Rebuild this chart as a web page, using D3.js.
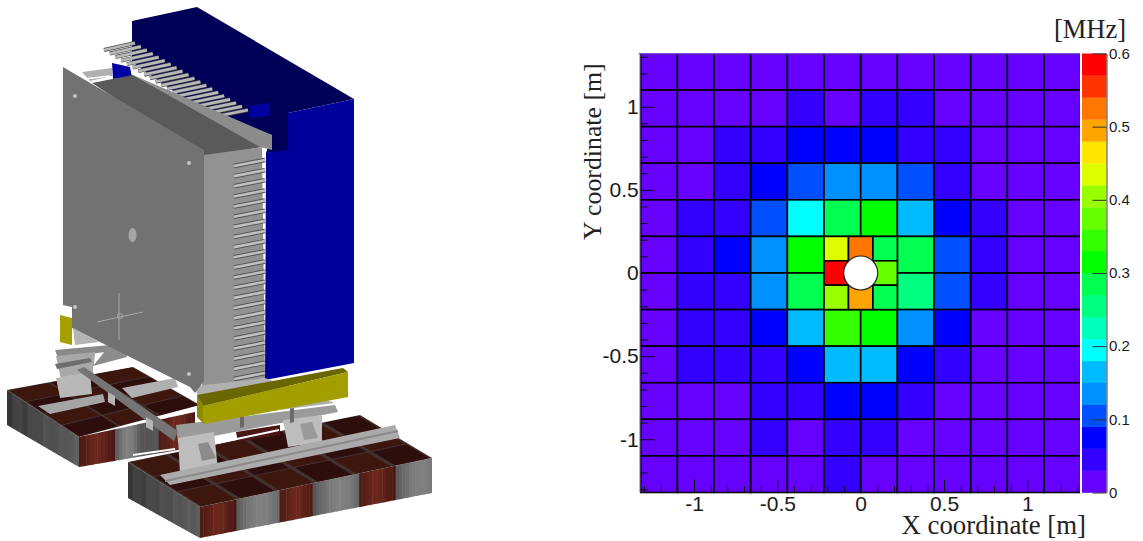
<!DOCTYPE html>
<html><head><meta charset="utf-8">
<script src="https://cdn.jsdelivr.net/npm/d3@7/dist/d3.min.js"></script>
<style>html,body{margin:0;padding:0;background:#fff}svg{display:block}</style>
</head><body><svg id="c" width="1143" height="541"></svg>
<script>
// ---------- data ----------
const paletteColors = ["#6600ff","#3300ff","#0000ff","#0050ff","#0090ff","#00bbff","#00ffff","#00ffbb","#00ff80","#00ff50",
                       "#00ff00","#33ff00","#66ff00","#99ff00","#ddff00","#ffe600","#ffa500","#ff7700","#ff3300","#ff0000"];
const zMax = 0.6;
const binEdgeStart = -1.32, binWidth = 0.22, binCount = 12;
const innerEdgeStart = -0.22, innerWidth = 0.44 / 3;
const holeRadius = 0.102;
// rates in MHz, rows from top (y = +1.32) to bottom; the four central cells are subdivided below
const outerRates = [
 [.015,.015,.015,.015,.015,.015,.015,.015,.015,.015,.015,.015],
 [.015,.015,.015,.015,.045,.015,.045,.045,.015,.015,.015,.015],
 [.015,.015,.045,.045,.075,.075,.075,.045,.045,.015,.015,.015],
 [.015,.015,.045,.075,.105,.135,.135,.105,.045,.015,.015,.015],
 [.015,.045,.045,.105,.195,.285,.315,.165,.075,.045,.015,.015],
 [.015,.045,.075,.135,.315,null,null,.285,.105,.045,.015,.015],
 [.015,.045,.045,.135,.285,null,null,.255,.105,.045,.015,.015],
 [.015,.045,.045,.075,.165,.345,.315,.135,.075,.015,.015,.015],
 [.015,.045,.045,.045,.075,.165,.165,.075,.045,.015,.015,.015],
 [.015,.015,.015,.045,.045,.075,.075,.045,.015,.015,.015,.015],
 [.015,.015,.015,.045,.015,.045,.045,.015,.015,.015,.015,.015],
 [.015,.015,.015,.015,.015,.045,.015,.015,.015,.015,.015,.015]];
const innerRates = [[.435,.525,.285],[.585,null,.375],[.405,.495,.285]];
const axisTicks = [-1,-0.5,0,0.5,1];
const axisMinorTicks = [-1.3,-1.2,-1.1,-0.9,-0.8,-0.7,-0.6,-0.4,-0.3,-0.2,-0.1,0.1,0.2,0.3,0.4,0.6,0.7,0.8,0.9,1.1,1.2,1.3];
const zTicks = [0,0.1,0.2,0.3,0.4,0.5,0.6];
const xTitle = "X coordinate [m]", yTitle = "Y coordinate [m]", zTitle = "[MHz]";

const svg = d3.select("#c");

// ---------- left: detector rendering (illustration) ----------
const defs = svg.append("defs");
defs.append("filter").attr("id","soft").attr("x","-5%").attr("y","-5%").attr("width","110%").attr("height","110%")
    .append("feGaussianBlur").attr("stdDeviation",0.7);
const ill = svg.append("g").attr("filter","url(#soft)");
const poly = (pts,fill)=>ill.append("polygon").attr("points",pts.map(p=>p.join(",")).join(" ")).attr("fill",fill);
const line = (a,b,col,w)=>ill.append("line").attr("x1",a[0]).attr("y1",a[1]).attr("x2",b[0]).attr("y2",b[1]).attr("stroke",col).attr("stroke-width",w);
const lerp=(a,b,t)=>[a[0]+(b[0]-a[0])*t,a[1]+(b[1]-a[1])*t];

function stripedFace(a,b,c,d,colorAt,n){
  for(let i=0;i<n;i++){const t0=i/n,t1=(i+1.15)/n;
    poly([lerp(a,b,t0),lerp(a,b,Math.min(t1,1)),lerp(d,c,Math.min(t1,1)),lerp(d,c,t0)],colorAt((i+.5)/n,i));}
}
const grayTex=(t,i)=>{const g=52+34*t+12*Math.abs(Math.sin(i*1.1));return d3.rgb(g,g,g).toString();};
function frontTex(bands){return (t,i)=>{
  for(const [s,e] of bands){ if(t>=s&&t<=e){const u=(t-s)/(e-s);const k=1-Math.abs(u-.5)*1.3;return d3.rgb(55+55*k,14+28*k,10+22*k).toString();}}
  let left=0; for(const [s,e] of bands){ if(e<t) left=e; }
  const g=84+44*Math.sin(Math.min((t-left)*14,3.14)); return d3.rgb(g,g,g).toString();};}
function topPatches(a,b,c,d,nu,nv){
  poly([a,b,c,d],"#43302d");
  const p=(u,v)=>lerp(lerp(a,b,u),lerp(d,c,u),v);
  for(let i=0;i<nu;i++)for(let j=0;j<nv;j++){
    const g=.01;
    poly([p(i/nu+g,j/nv+g),p((i+1)/nu-g,j/nv+g),p((i+1)/nu-g,(j+1)/nv-g),p(i/nu+g,(j+1)/nv-g)],(i+j)%2?"#2e0b0a":"#3c1410");
  }
}
// rear block
stripedFace([7,390],[79,437],[79,467],[7,425],grayTex,14);
stripedFace([79,437],[195,412],[195,447],[79,467],frontTex([[0,.31],[.68,1]]),32);
topPatches([7,390],[133,367],[200,405],[79,437],3,4);
line([133,455],[175,449],"#fff",1.8);
// front block
stripedFace([128,462],[200,507],[200,538],[128,498],grayTex,16);
stripedFace([200,507],[432,458],[432,493],[200,538],frontTex([[0,.15],[.338,.49],[.68,.84]]),70);
topPatches([128,462],[360,415],[432,458],[200,507],6,3);
// rear rail & supports
poly([[38,406],[103,394],[105,402],[50,414]],"#a5a5a5");
poly([[122,388],[175,378],[178,387],[132,398]],"#b0b0b0");
poly([[55,350],[110,345],[113,351],[58,358]],"#8a8a8a");
poly([[56,356],[95,352],[93,378],[62,384]],"#a8a8a8");
poly([[56,378],[90,372],[92,394],[60,398]],"#b8b8b8");
poly([[93,366],[127,357],[135,362],[93,372]],"#fff");
poly([[110,345],[125,342],[127,357],[93,366]],"#8c8c8c");
poly([[55,364],[90,358],[92,362],[57,369]],"#6e6e6e");
// front supports
poly([[176,425],[335,405],[338,412],[178,443]],"#9b9b9b");
poly([[236,432],[280,425],[280,435],[238,442]],"#4b1512");
line([213,444],[279,430],"#fff",2);
poly([[178,438],[214,432],[218,470],[180,474]],"#bdbdbd");
poly([[283,420],[322,415],[322,442],[288,447]],"#bdbdbd");
poly([[198,444],[208,442],[216,458],[202,461]],"#8c8c8c");
poly([[300,424],[312,422],[318,438],[304,440]],"#9a9a9a");
poly([[240,413],[244,412],[244,427],[240,428]],"#6b6b6b");
poly([[290,408],[294,407],[294,422],[290,423]],"#6b6b6b");
// cross beam
poly([[77,370],[84,367],[178,431],[174,441]],"#757575");
poly([[108,392],[115,396],[115,406],[108,402]],"#b5b5b5");
poly([[146,417],[153,421],[153,431],[146,427]],"#b5b5b5");
// front rail
poly([[160,475],[395,425],[400,438],[170,485]],"#ababab");
line([165,481],[398,431],"#8a8a8a",2);
// blue box
poly([[132,21],[197,7],[354,99],[288,113],[288,152],[266,153],[272,135],[215,120],[132,62]],"#000058");
poly([[288,113],[354,99],[354,363],[265,380],[266,153],[288,150]],"#00009a");
poly([[250,106],[269,103],[269,116],[250,118]],"#0000a0");
// top fins
for(let i=0;i<20;i++){const t=i/19; const a=lerp([104,50],[213,117],t), b=lerp([135,43],[248,110],t);
  line(a,b,"#4a4a4a",4); line(a,b,"#b8b8b8",2.8);}
// left connector
poly([[82,72],[112,68],[112,76],[90,81]],"#b0b0b0");
line([84,79],[110,76],"#fff",1.6);
poly([[112,63],[130,67],[132,77],[113,79]],"#0000a0");
// top of gray frame
poly([[92,83],[133,75],[262,147],[204,157]],"#5a5a5a");
poly([[133,75],[272,135],[272,150],[260,147]],"#8c8c8c");
// side face
poly([[204,155],[262,147],[265,378],[202,392]],"#929292");
for(let i=0;i<22;i++){const t=i/21; const a=lerp([234,166],[234,379],t), b=lerp([265,160],[265,373],t);
  line(a,b,"#555",4.6); line(a,b,"#c0c0c0",2.6);}
// strip under side face
poly([[196,386],[265,378],[335,403],[200,420]],"#b0b0b0");
// gray front panel
poly([[63,67],[204,150],[204,381],[195,393],[190,387],[100,342],[72,328],[72,307],[63,305]],"#727272");
poly([[73,328],[99,342],[75,345]],"#b4b4b4");
// yellow
poly([[60,315],[72,318],[72,345],[60,342]],"#a5a000");
poly([[197,395],[343,368],[348,372],[203,406]],"#6b6600");
poly([[203,406],[348,372],[348,397],[204,424]],"#a39e00");
poly([[197,395],[203,406],[204,424],[197,417]],"#8e8a00");
// panel details
[[75,96],[189,163],[75,307],[189,374]].forEach(p=>ill.append("circle").attr("cx",p[0]).attr("cy",p[1]).attr("r",2).attr("fill","#c4c4c4"));
ill.append("ellipse").attr("cx",132.5).attr("cy",235).attr("rx",4).attr("ry",7).attr("fill","#a5a5a5");
line([119,293],[119,340],"#a6a6a6",1); line([97,322],[143,312],"#a6a6a6",1);
ill.append("circle").attr("cx",120).attr("cy",316).attr("r",2.6).attr("fill","none").attr("stroke","#a6a6a6");

// ---------- right: hit-rate map ----------
const x = d3.scaleLinear().domain([-1.32,1.32]).range([640.7,1080.7]);
const y = d3.scaleLinear().domain([-1.32,1.32]).range([492.5,53.5]);
const z = d3.scaleLinear().domain([0,zMax]).range([492.5,53.5]);
const color = d3.scaleQuantize().domain([0,zMax]).range(paletteColors);

const cells = [];
outerRates.forEach((row,r)=>row.forEach((v,c)=>{ if(v!==null) cells.push({
  x0:binEdgeStart+c*binWidth, x1:binEdgeStart+(c+1)*binWidth,
  y1:-binEdgeStart-r*binWidth, y0:-binEdgeStart-(r+1)*binWidth, v}); }));
innerRates.forEach((row,r)=>row.forEach((v,c)=>{ if(v!==null) cells.push({
  x0:innerEdgeStart+c*innerWidth, x1:innerEdgeStart+(c+1)*innerWidth,
  y1:-innerEdgeStart-r*innerWidth, y0:-innerEdgeStart-(r+1)*innerWidth, v}); }));

const plot = svg.append("g");
plot.selectAll("rect.cell").data(cells).join("rect").attr("class","cell")
  .attr("x",d=>x(d.x0)).attr("y",d=>y(d.y1))
  .attr("width",d=>x(d.x1)-x(d.x0)).attr("height",d=>y(d.y0)-y(d.y1))
  .attr("fill",d=>color(d.v)).attr("stroke","#000").attr("stroke-width",1.6);
plot.append("rect").attr("x",x(-1.32)-2).attr("y",y(1.32)-2).attr("width",x(1.32)-x(-1.32)+4).attr("height",1.6).attr("fill","#fff");
plot.append("rect").attr("x",x(-1.32)-2).attr("y",y(1.32)-.4).attr("width",x(1.32)-x(-1.32)+2).attr("height",1.2).attr("fill","#8a55f5");
plot.append("rect").attr("x",x(1.32)-.7).attr("y",y(1.32)-1).attr("width",2.2).attr("height",y(-1.32)-y(1.32)+2).attr("fill","#fff");
plot.append("rect").attr("x",x(-1.32)-1).attr("y",y(1.32)).attr("width",1).attr("height",y(-1.32)-y(1.32)).attr("fill","#5a4a80");
plot.append("circle").attr("cx",x(0)).attr("cy",y(0)).attr("r",x(holeRadius)-x(0))
  .attr("fill","#fff").attr("stroke","#222").attr("stroke-width",1.2);

// axes
const fmt = d=>String(d);
const tickFont = "'Liberation Sans',Arial,sans-serif";
function styleAxis(g){ g.select(".domain").remove(); g.selectAll("line").attr("stroke","#111").attr("stroke-width",1);
  g.selectAll("text").attr("font-family",tickFont).attr("font-size",21).attr("fill","#1a1a1a"); }
const noLabels = g=>g.selectAll("text").remove();
svg.append("g").attr("transform",`translate(0,${y(-1.32)})`)
  .call(d3.axisBottom(x).tickValues(axisMinorTicks).tickSize(-6.5).tickFormat("")).call(styleAxis).call(noLabels);
svg.append("g").attr("transform",`translate(0,${y(-1.32)})`)
  .call(d3.axisBottom(x).tickValues(axisTicks).tickSizeInner(-13).tickSizeOuter(0).tickPadding(3.5).tickFormat(fmt)).call(styleAxis);
svg.append("g").attr("transform",`translate(${x(-1.32)},0)`)
  .call(d3.axisLeft(y).tickValues(axisMinorTicks).tickSize(-7).tickFormat("")).call(styleAxis).call(noLabels);
svg.append("g").attr("transform",`translate(${x(-1.32)},0)`)
  .call(d3.axisLeft(y).tickValues(axisTicks).tickSizeInner(-14).tickSizeOuter(0).tickPadding(2).tickFormat(fmt)).call(styleAxis);
svg.append("line").attr("x1",x(-1.32)).attr("x2",x(1.32)-.7).attr("y1",y(-1.32)).attr("y2",y(-1.32)).attr("stroke","#111").attr("stroke-width",1);

// palette bar
const barX0 = 1082, barX1 = 1106.5;
svg.append("g").selectAll("rect").data(paletteColors).join("rect")
  .attr("x",barX0).attr("width",barX1-barX0)
  .attr("y",(d,i)=>z((i+1)*zMax/paletteColors.length))
  .attr("height",(d,i)=>z(i*zMax/paletteColors.length)-z((i+1)*zMax/paletteColors.length)+.3)
  .attr("fill",d=>d);
const zg = svg.append("g").attr("transform",`translate(${barX1},0)`)
  .call(d3.axisRight(z).tickValues(zTicks).tickSizeInner(-14).tickSizeOuter(0).tickPadding(2.5).tickFormat(fmt));
zg.select(".domain").attr("stroke","#444").attr("stroke-width",1);
zg.selectAll("line").attr("stroke","#333").attr("stroke-width",1);
zg.selectAll("text").attr("font-family",tickFont).attr("font-size",15).attr("fill","#1a1a1a");

// titles
const serif = "'Liberation Serif','Times New Roman',serif";
const title = (t,tx,ty,rot,anchor,size)=>svg.append("text").text(t).attr("font-family",serif).attr("font-size",size).attr("fill","#222")
  .attr("text-anchor",anchor).attr("transform",`translate(${tx},${ty}) rotate(${rot})`);
title(xTitle,1086,534,0,"end",26.8);
title(yTitle,600.5,240,-90,"start",25.8);
title(zTitle,1126,38,0,"end",26.5);
</script></body></html>
